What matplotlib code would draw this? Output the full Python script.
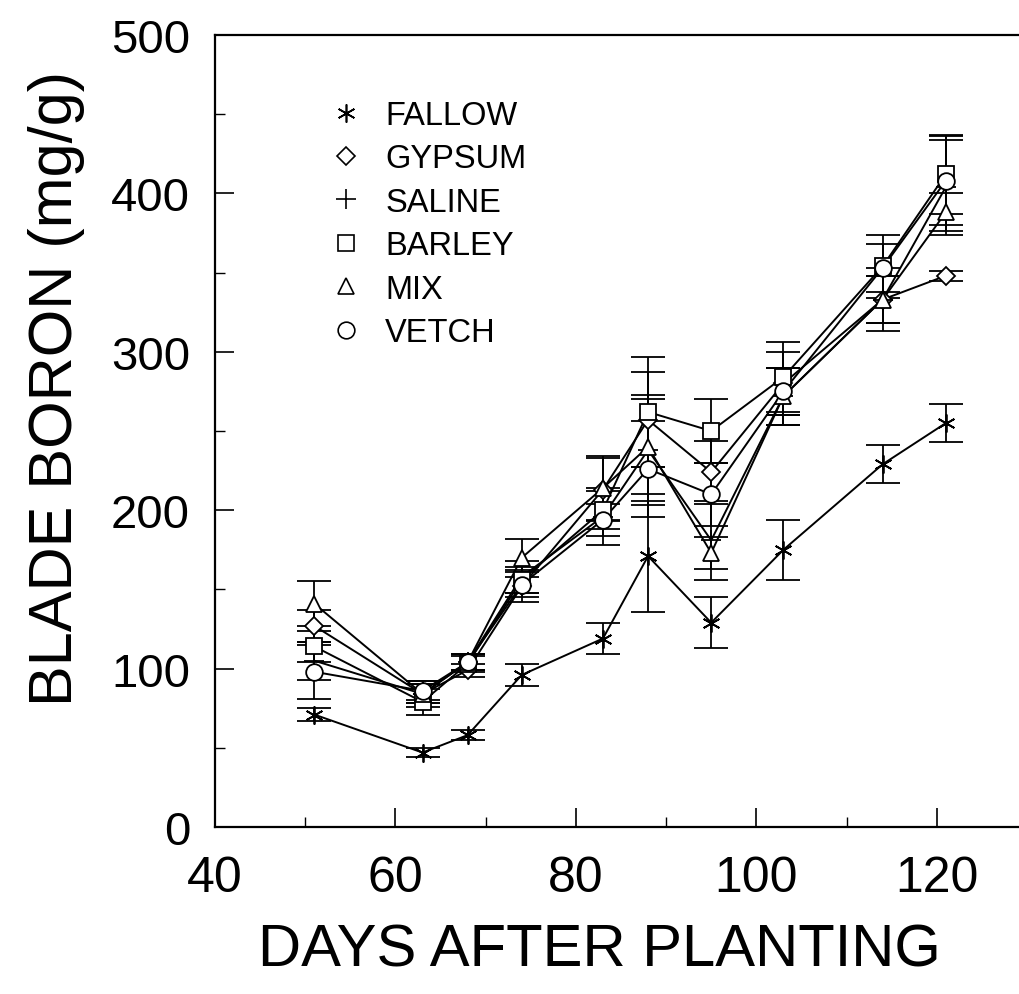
import numpy as np
import matplotlib
matplotlib.use("Agg")
import matplotlib.pyplot as plt
from matplotlib.lines import Line2D
from matplotlib.ticker import MultipleLocator

# sampling days
days = [51, 63, 68, 74, 83, 88, 95, 103, 114, 121]

# blade boron (mg/g) per treatment
fallow = [71, 47, 58, 96, 119, 171, 129, 175, 229, 255]
gypsum = [127, 84, 99, 152, 213, 257, 224, 280, 333, 348]
saline = [105, 84, 104, 158, 196, 238, 181, 272, 333, 404]
barley = [114, 79, 103, 156, 200, 262, 250, 284, 354, 412]
mix = [141, 84, 104, 170, 214, 240, 173, 272, 333, 388]
vetch = [98, 86, 104, 153, 194, 226, 210, 275, 353, 408]

# standard errors (approx.)
fallow_err = [4, 3, 3, 7, 10, 35, 16, 19, 12, 12]
gypsum_err = [10, 6, 4, 10, 20, 30, 20, 20, 15, 3]
saline_err = [12, 8, 5, 10, 18, 35, 25, 18, 20, 30]
barley_err = [10, 8, 5, 8, 12, 35, 20, 22, 20, 25]
mix_err = [14, 6, 5, 12, 20, 30, 10, 18, 15, 12]
vetch_err = [17, 6, 5, 8, 10, 30, 20, 15, 15, 28]

labels = ['FALLOW', 'GYPSUM', 'SALINE', 'BARLEY', 'MIX', 'VETCH']
series = [fallow, gypsum, saline, barley, mix, vetch]
errors = [fallow_err, gypsum_err, saline_err, barley_err, mix_err, vetch_err]
markers = [(6, 2, 0), 'D', '+', 's', '^', 'o']
msizes = [13, 9, 14, 11, 12, 12]

plt.rcParams['font.family'] = ['Liberation Sans', 'DejaVu Sans']

fig = plt.figure(figsize=(10.19, 9.95), dpi=100)
ax = fig.add_axes([215 / 1019, 167 / 995, 812 / 1019, 792 / 995])

for y, err, m, ms in zip(series, errors, markers, msizes):
    ax.errorbar(days, y, yerr=err, color='black', lw=1.4, elinewidth=1.3,
                capsize=12, capthick=1.3, zorder=2)
    ax.plot(days, y, linestyle='none', marker=m, markersize=ms,
            markerfacecolor='white', markeredgecolor='black',
            markeredgewidth=1.3, zorder=3)

ax.set_xlim(40, 130)
ax.set_ylim(0, 500)
ax.xaxis.set_major_locator(MultipleLocator(20))
ax.xaxis.set_minor_locator(MultipleLocator(10))
ax.yaxis.set_major_locator(MultipleLocator(100))
ax.yaxis.set_minor_locator(MultipleLocator(50))
ax.tick_params(which='major', direction='in', length=14, width=1.2)
ax.tick_params(which='minor', direction='in', length=7, width=1.0)
ax.tick_params(axis='x', labelsize=36, pad=20)
ax.tick_params(axis='y', labelsize=34, pad=18)
for sp in ax.spines.values():
    sp.set_linewidth(1.6)

ax.set_xlabel('DAYS AFTER PLANTING', fontsize=43)
ax.xaxis.set_label_coords(0.474, -0.121)
ax.set_ylabel('BLADE BORON (mg/g)', fontsize=44)
ax.yaxis.set_label_coords(-0.160, 0.555)

handles = [Line2D([], [], linestyle='none', marker=m, markersize=ms,
                  markerfacecolor='white', markeredgecolor='black',
                  markeredgewidth=1.2)
           for m, ms in zip(markers, msizes)]
ax.legend(handles, labels, loc='upper left', bbox_to_anchor=(0.105, 0.955),
          frameon=False, fontsize=23.5, handlelength=1.0, handletextpad=0.7,
          labelspacing=0.38)

fig.savefig('out.png', dpi=100)
